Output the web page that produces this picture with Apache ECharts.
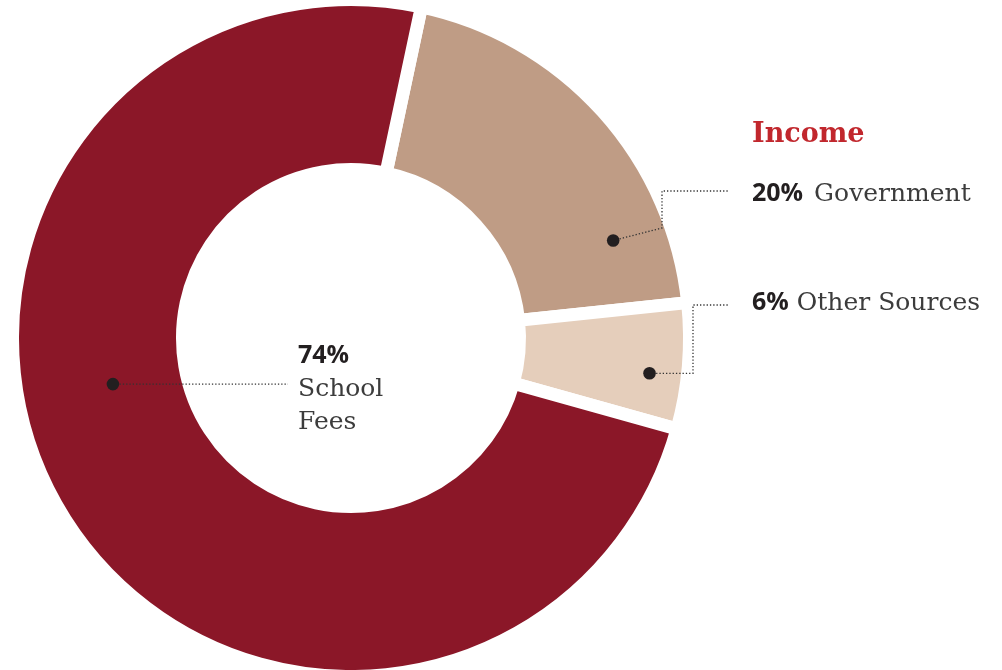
<!DOCTYPE html>
<html>
<head>
<meta charset="utf-8">
<style>
html,body{margin:0;padding:0;background:#fff;}
#c{width:1002px;height:670px;}
</style>
<script src="https://cdn.jsdelivr.net/npm/echarts@6/dist/echarts.min.js"></script>
</head>
<body>
<div id="c"></div>
<script>
// ---- data ----
const categories = ['Government', 'Other Sources', 'School Fees'];
const values = [20, 6, 74];
const labelNames = ['Government', 'Other Sources', 'School\nFees'];
const title = 'Income';

// ---- styles ----
const colors = ['#bf9c85', '#e5cebb', '#8b1728'];
const center = [351, 338];
const gap = 13;
const rInner = 175, rOuter = 332;
// annotation anchors: [fraction along slice angle, fraction along ring thickness]
const anchors = [[0.80, 0.667], [0.59, 0.80], [0.576, 0.43]];

const chart = echarts.init(document.getElementById('c'), null, {renderer: 'canvas'});
chart.setOption({
  animation: false,
  backgroundColor: '#fff',
  series: [{
    type: 'pie',
    center: center,
    radius: [rInner - gap / 2, rOuter + gap / 2],
    startAngle: 78,
    clockwise: true,
    silent: true,
    avoidLabelOverlap: false,
    label: {show: false},
    labelLine: {show: false},
    itemStyle: {borderColor: '#fff', borderWidth: gap},
    data: categories.map((c, i) => ({name: c, value: values[i], itemStyle: {color: colors[i]}}))
  }]
});

// compute dot positions from pie layout
const data = chart.getModel().getSeriesByIndex(0).getData();
const dots = categories.map((c, i) => {
  const l = data.getItemLayout(i);
  const a = l.startAngle + (l.endAngle - l.startAngle) * anchors[i][0];
  const r = rInner + (rOuter - rInner) * anchors[i][1];
  return [l.cx + r * Math.cos(a), l.cy + r * Math.sin(a)];
});

const lineStyle = {stroke: '#333', lineWidth: 1.3, lineDash: [1.3, 2]};
const labelX = 752;
const lineEndX = 728;
const graphics = [];

graphics.push({type: 'polyline', silent: true, z: 10,
  shape: {points: [dots[0], [662, 228], [662, 191], [lineEndX, 191]]}, style: lineStyle});
graphics.push({type: 'polyline', silent: true, z: 10,
  shape: {points: [dots[1], [693, dots[1][1]], [693, 305], [lineEndX, 305]]}, style: lineStyle});
graphics.push({type: 'polyline', silent: true, z: 10,
  shape: {points: [dots[2], [288, dots[2][1]]]}, style: lineStyle});

dots.forEach(d => graphics.push({type: 'circle', silent: true, z: 11,
  shape: {cx: d[0], cy: d[1], r: 6.3}, style: {fill: '#231f20'}}));

const pctFont = {fontFamily: 'Open Sans', fontWeight: 'bold', fontSize: 25, fill: '#231f20'};
const nameFont = {fontFamily: 'DejaVu Serif', fontWeight: 'normal', fontSize: 25, fill: '#3c3c3c'};

graphics.push({type: 'text', silent: true, z: 12,
  style: {x: labelX, y: 135, verticalAlign: 'middle', text: title,
    fontFamily: 'DejaVu Serif', fontWeight: 'bold', fontSize: 27, fill: '#c1272d'}});

graphics.push({type: 'text', silent: true, z: 12,
  style: {x: labelX, y: 194, verticalAlign: 'middle',
    text: '{p|' + values[0] + '%}{n|' + labelNames[0] + '}',
    rich: {p: pctFont, n: Object.assign({padding: [0, 0, 0, 11]}, nameFont)}}});
graphics.push({type: 'text', silent: true, z: 12,
  style: {x: labelX, y: 303, verticalAlign: 'middle',
    text: '{p|' + values[1] + '%}{n|' + labelNames[1] + '}',
    rich: {p: pctFont, n: Object.assign({padding: [0, 0, 0, 8]}, nameFont)}}});
graphics.push({type: 'text', silent: true, z: 12,
  style: {x: 298, y: 389, verticalAlign: 'middle',
    text: '{p|' + values[2] + '%}\n' + labelNames[2].split('\n').map(s => '{n|' + s + '}').join('\n'),
    rich: {p: Object.assign({lineHeight: 33}, pctFont), n: Object.assign({lineHeight: 33}, nameFont)}}});

chart.setOption({graphic: graphics});
</script>
</body>
</html>
